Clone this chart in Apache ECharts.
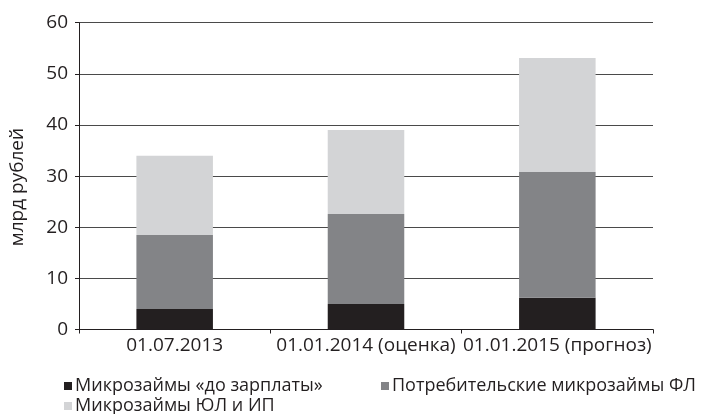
<!DOCTYPE html>
<html>
<head>
<meta charset="utf-8">
<script src="https://cdn.jsdelivr.net/npm/echarts@6/dist/echarts.min.js"></script>
<style>
html,body{margin:0;padding:0;background:#fff;}
#chart{width:711px;height:414px;}
</style>
</head>
<body>
<div id="chart"></div>
<script>
const categories = ['01.07.2013', '01.01.2014 (оценка)', '01.01.2015 (прогноз)'];
const seriesNames = ['Микрозаймы «до зарплаты»', 'Потребительские микрозаймы ФЛ', 'Микрозаймы ЮЛ и ИП'];
const salaryLoans = [4.0, 5.0, 6.2];
const consumerLoans = [14.5, 17.6, 24.6];
const businessLoans = [15.5, 16.4, 22.3];
const yTicks = [0, 10, 20, 30, 40, 50, 60];
const yAxisTitle = 'млрд рублей';

const colors = ['#231f20', '#838487', '#d3d4d6'];
const textColor = '#231f20';
const fontFamily = '"Open Sans", sans-serif';

const chart = echarts.init(document.getElementById('chart'), null, {renderer: 'canvas'});
const values = [salaryLoans, consumerLoans, businessLoans];

const legendPos = [
  {left: 64, top: 377},
  {left: 381, top: 377},
  {left: 64, top: 397}
];

chart.setOption({
  animation: false,
  textStyle: {fontFamily: fontFamily, color: textColor},
  grid: {left: 72, right: 58, top: 22.7, bottom: 84.5, containLabel: false},
  legend: seriesNames.map((n, i) => ({
    data: [n],
    left: legendPos[i].left,
    top: legendPos[i].top,
    icon: 'rect',
    itemWidth: 8,
    itemHeight: 8,
    itemGap: 0,
    padding: 0,
    textStyle: {fontFamily: fontFamily, fontSize: 18, color: textColor, padding: [0, 0, 0, -2]}
  })),
  xAxis: {
    type: 'category',
    data: categories,
    axisLine: {lineStyle: {color: textColor, width: 1}},
    axisTick: {show: true, length: 4, alignWithLabel: false, lineStyle: {color: textColor}},
    axisLabel: {fontFamily: fontFamily, fontSize: 19, color: textColor, margin: 7, interval: 0},
    splitLine: {show: false}
  },
  yAxis: {
    type: 'value',
    min: yTicks[0],
    max: yTicks[yTicks.length - 1],
    interval: 10,
    name: yAxisTitle,
    nameLocation: 'middle',
    nameRotate: 90,
    nameGap: 52,
    nameTextStyle: {fontFamily: fontFamily, fontSize: 19, color: textColor, padding: [0, 22, 0, 0]},
    axisLine: {show: true, lineStyle: {color: textColor, width: 1}},
    axisTick: {show: true, length: 4, lineStyle: {color: textColor}},
    axisLabel: {fontFamily: fontFamily, fontSize: 19, color: textColor, margin: 11},
    splitLine: {show: true, lineStyle: {color: '#4a4a4a', width: 1}}
  },
  series: seriesNames.map((n, i) => ({
    name: n,
    type: 'bar',
    stack: 'total',
    barWidth: '40%',
    data: values[i],
    itemStyle: {color: colors[i]},
    emphasis: {disabled: true}
  }))
});
</script>
</body>
</html>
